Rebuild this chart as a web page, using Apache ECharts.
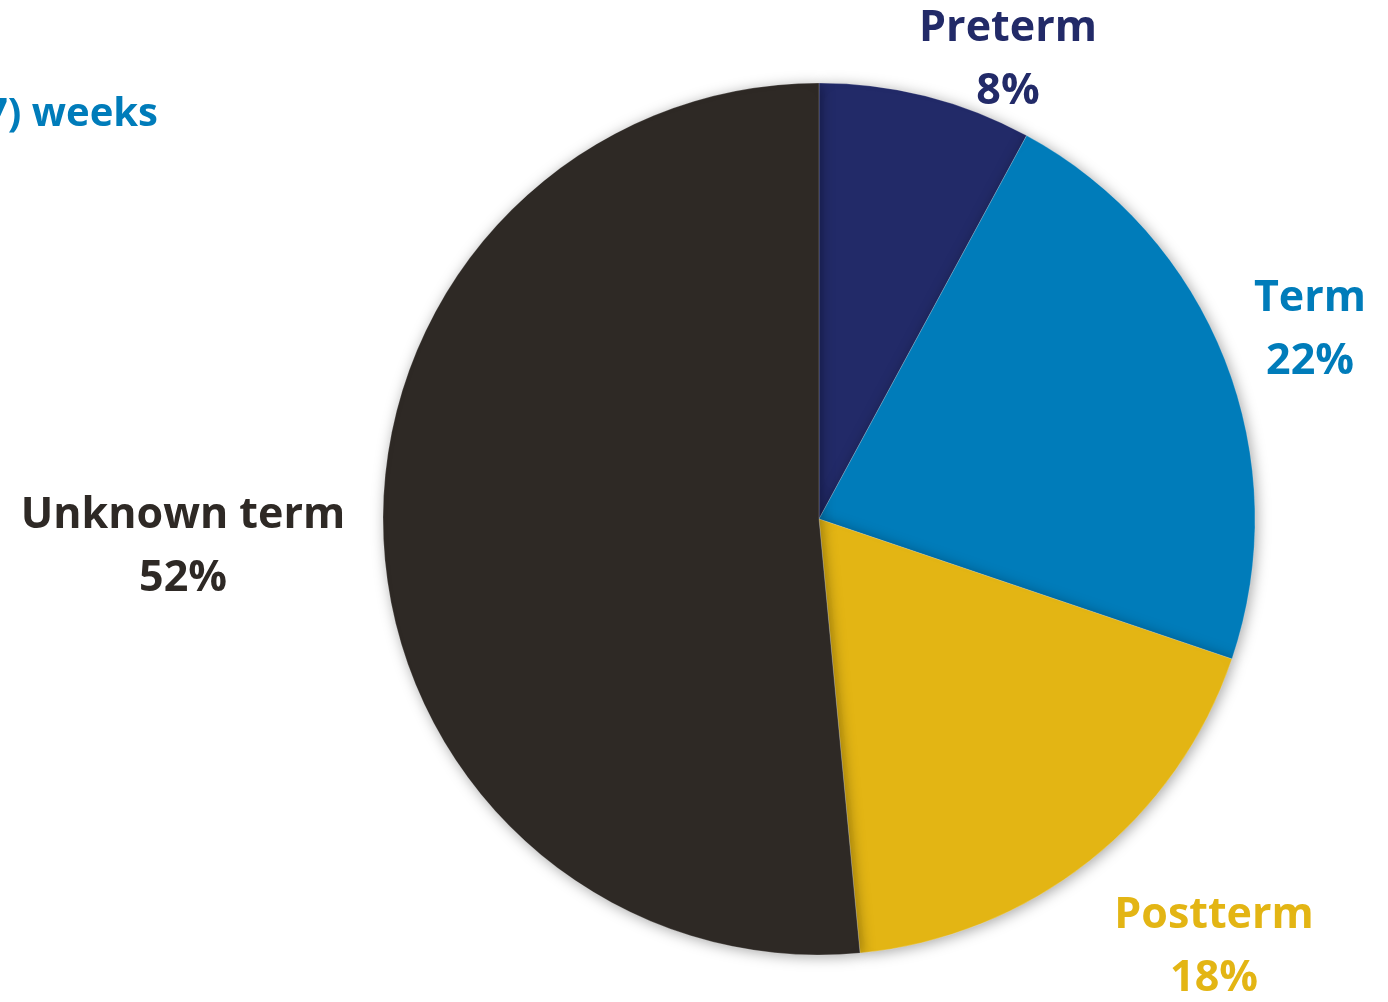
<!DOCTYPE html>
<html>
<head>
<meta charset="utf-8">
<script src="https://cdn.jsdelivr.net/npm/echarts@6/dist/echarts.min.js"></script>
<style>
html, body { margin: 0; padding: 0; background: #fff; }
#termpie { width: 1388px; height: 1002px; }
</style>
</head>
<body>
<div id="termpie"></div>
<script>
var categories = ['Preterm', 'Term', 'Postterm', 'Unknown term'];
var values = [7.9, 22.3, 18.3, 51.5];
var colors = ['#222a68', '#007cba', '#e3b514', '#2e2925'];
// label block centres (x, y) in px
var labelSpots = [[1008, 60], [1310, 330], [1214, 947], [183, 547]];

function termpie() {
	var pieData = categories.map(function (c, i) {
		return {
			name: c,
			value: values[i],
			itemStyle: { color: colors[i] },
			label: { color: colors[i] }
		};
	});

	var option = {
		animation: false,
		graphic: [{
			type: 'text',
			right: 1388 - 158,
			top: 95,
			style: {
				text: '(<37) weeks',
				fill: '#007cba',
				font: 'bold 40px "Open Sans"'
			}
		}],
		series: [{
			type: 'pie',
			center: [819, 519],
			radius: 436,
			startAngle: 90,
			clockwise: true,
			data: pieData,
			itemStyle: {
				borderColor: 'rgba(255,255,255,0.35)',
				borderWidth: 0.6,
				shadowBlur: 14,
				shadowColor: 'rgba(0,0,0,0.35)',
				shadowOffsetX: 2,
				shadowOffsetY: 2
			},
			label: {
				show: true,
				position: 'outside',
				overflow: 'none',
				formatter: function (p) { return p.name + '\n' + Math.round(p.percent) + '%'; },
				fontFamily: 'Open Sans',
				fontWeight: 'bold',
				fontSize: 43,
				lineHeight: 63,
				align: 'center'
			},
			labelLine: { show: false },
			labelLayout: function (p) {
				var s = labelSpots[p.dataIndex];
				return {
					x: s[0],
					y: s[1],
					align: 'center',
					verticalAlign: 'middle'
				};
			}
		}]
	};

	var chart = echarts.init(document.getElementById('termpie'));
	chart.setOption(option);
	window.addEventListener('resize', function () {
		chart.resize();
	});
}
termpie();
</script>
</body>
</html>
